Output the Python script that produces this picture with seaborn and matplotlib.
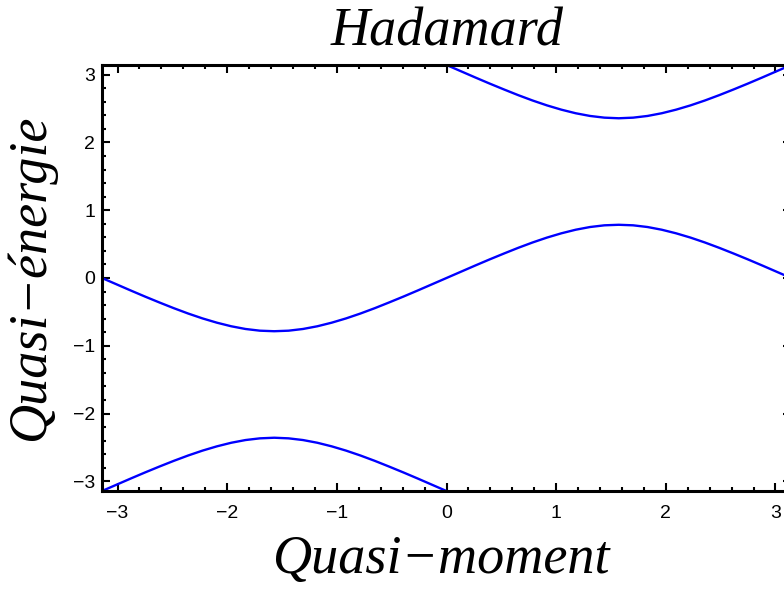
import seaborn as sns
import matplotlib.pyplot as plt
import pandas as pd
from matplotlib.ticker import MultipleLocator

# quasi-momentum samples
k_neg = [-3.142, -3.011, -2.880, -2.749, -2.618, -2.487, -2.356, -2.225, -2.094, -1.963, -1.833,
         -1.702, -1.571, -1.440, -1.309, -1.178, -1.047, -0.916, -0.785, -0.654, -0.524, -0.393,
         -0.262, -0.131, 0.0]
k_pos = [0.0, 0.131, 0.262, 0.393, 0.524, 0.654, 0.785, 0.916, 1.047, 1.178, 1.309, 1.440,
         1.571, 1.702, 1.833, 1.963, 2.094, 2.225, 2.356, 2.487, 2.618, 2.749, 2.880, 3.011, 3.142]

# quasi-energy branches
e_mid_neg = [0.0, -0.092, -0.184, -0.274, -0.361, -0.445, -0.524, -0.596, -0.659, -0.712, -0.752,
             -0.777, -0.785, -0.777, -0.752, -0.712, -0.659, -0.596, -0.524, -0.445, -0.361,
             -0.274, -0.184, -0.092, 0.0]
e_mid_pos = [0.0, 0.092, 0.184, 0.274, 0.361, 0.445, 0.524, 0.596, 0.659, 0.712, 0.752,
             0.777, 0.785, 0.777, 0.752, 0.712, 0.659, 0.596, 0.524, 0.445, 0.361,
             0.274, 0.184, 0.092, 0.0]
e_top = [3.142, 3.050, 2.958, 2.868, 2.781, 2.697, 2.618, 2.546, 2.483, 2.430, 2.390, 2.365,
         2.356, 2.365, 2.390, 2.430, 2.483, 2.546, 2.618, 2.697, 2.781, 2.868, 2.958, 3.050, 3.142]
e_bottom = [-3.142, -3.050, -2.958, -2.868, -2.781, -2.697, -2.618, -2.546, -2.483, -2.430, -2.390,
            -2.365, -2.356, -2.365, -2.390, -2.430, -2.483, -2.546, -2.618, -2.697, -2.781,
            -2.868, -2.958, -3.050, -3.142]

x_ticks = [-3, -2, -1, 0, 1, 2, 3]
y_ticks = [-3, -2, -1, 0, 1, 2, 3]

df = pd.concat([
    pd.DataFrame({'k': k_neg + k_pos[1:], 'E': e_mid_neg + e_mid_pos[1:], 'branch': 'middle'}),
    pd.DataFrame({'k': k_pos, 'E': e_top, 'branch': 'top'}),
    pd.DataFrame({'k': k_neg, 'E': e_bottom, 'branch': 'bottom'}),
])

sns.set_style("ticks")
plt.rcParams['font.family'] = ['Liberation Sans', 'DejaVu Sans']
plt.rcParams['text.color'] = 'black'

W, H = 784, 592
fig = plt.figure(figsize=(W / 100, H / 100), dpi=100)
ax = fig.add_axes([102 / W, 1 - 491 / H, (791 - 102) / W, (491 - 65) / H])

for name, sub in df.groupby('branch'):
    sns.lineplot(data=sub, x='k', y='E', ax=ax, color='#0000ff', linewidth=1.7,
                 sort=False, estimator=None)

ax.set_xlim(-3.1416, 3.1416)
ax.set_ylim(-3.1416, 3.1416)
ax.set_xticks(x_ticks)
ax.set_yticks(y_ticks)
ax.xaxis.set_minor_locator(MultipleLocator(0.2))
ax.yaxis.set_minor_locator(MultipleLocator(0.2))
ax.tick_params(which='both', direction='in', top=True, right=True, width=1.5,
               color='black', labelcolor='black')
ax.tick_params(which='major', length=6, labelsize=14)
ax.tick_params(which='minor', length=3)
ax.tick_params(axis='x', which='major', pad=10)
ax.tick_params(axis='y', which='major', pad=5)
for s in ax.spines.values():
    s.set_linewidth(2.2)
    s.set_color('black')
ax.set_xlabel('')
ax.set_ylabel('')

serif = ['Liberation Serif', 'DejaVu Serif']
fig.text(447 / W, 1 - 46 / H, 'Hadamard', ha='center', va='baseline',
         fontsize=39, style='italic', family=serif, color='black')
fig.text(441 / W, 1 - 573 / H, 'Quasi\u2212moment', ha='center', va='baseline',
         fontsize=39, style='italic', family=serif, color='black')
fig.text(31 / W, 1 - 278 / H, 'Quasi\u2212\u00e9nergie', ha='center', va='center',
         rotation=90, fontsize=39, style='italic', family=serif, color='black')

fig.savefig('out.png', dpi=100)
